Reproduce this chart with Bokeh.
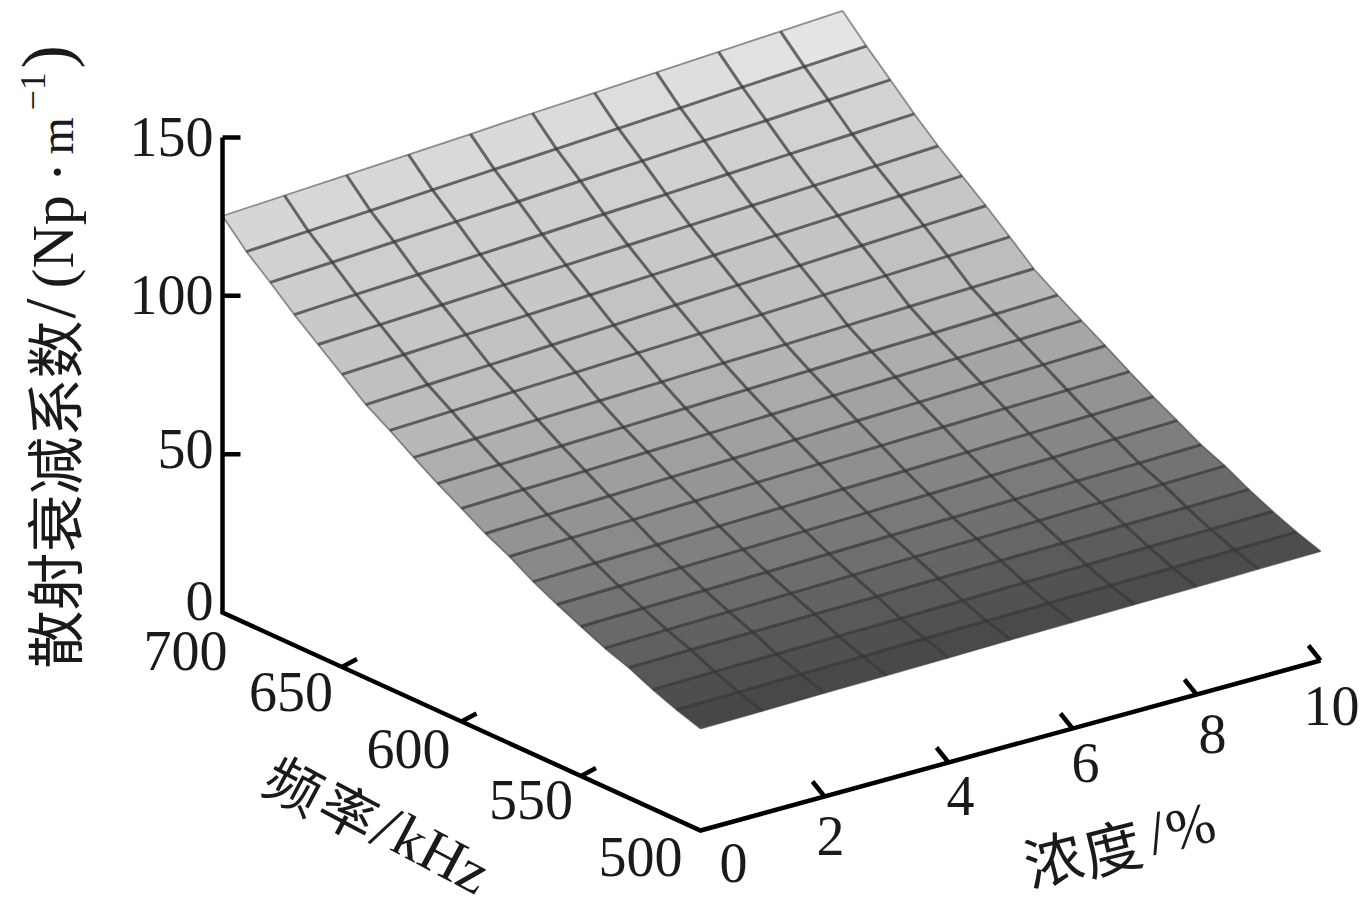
from bokeh.plotting import figure
from bokeh.models import Range1d, ColumnDataSource
from bokeh.core.properties import value
from bokeh.embed import file_html
from bokeh.resources import INLINE
import math

frequency_khz = [700, 690, 680, 670, 660, 650, 640, 630, 620, 610, 600,
                 590, 580, 570, 560, 550, 540, 530, 520, 510, 500]
concentration_pct = [0, 1, 2, 3, 4, 5, 6, 7, 8, 9, 10]
attenuation = [
    [125.2,126.3,127.4,128.5,129.6,130.8,131.9,133.0,134.1,135.2,136.3],
    [117.4,118.5,119.6,120.8,121.9,123.0,124.1,125.2,126.4,127.5,128.6],
    [111.1,112.1,113.2,114.2,115.2,116.3,117.3,118.3,119.3,120.4,121.4],
    [104.4,105.4,106.3,107.3,108.3,109.3,110.2,111.2,112.2,113.1,114.1],
    [98.4,99.3,100.2,101.1,102.0,102.9,103.8,104.7,105.6,106.5,107.4],
    [92.4,93.3,94.2,95.1,96.0,96.9,97.8,98.7,99.6,100.5,101.4],
    [86.3,87.2,88.1,89.0,89.9,90.9,91.8,92.7,93.6,94.5,95.4],
    [81.6,82.3,83.1,83.8,84.6,85.3,86.0,86.8,87.5,88.3,89.0],
    [76.5,77.1,77.7,78.3,78.9,79.5,80.0,80.6,81.2,81.8,82.4],
    [71.7,72.3,72.9,73.4,74.0,74.6,75.2,75.8,76.3,76.9,77.5],
    [67.3,67.9,68.4,69.0,69.5,70.1,70.7,71.2,71.8,72.3,72.9],
    [62.8,63.4,63.9,64.5,65.0,65.6,66.2,66.7,67.3,67.8,68.4],
    [59.0,59.5,59.9,60.4,60.9,61.4,61.8,62.3,62.8,63.2,63.7],
    [54.5,55.0,55.4,55.9,56.4,56.9,57.3,57.8,58.3,58.7,59.2],
    [50.7,51.1,51.6,52.0,52.5,52.9,53.3,53.8,54.2,54.7,55.1],
    [47.2,47.6,47.9,48.3,48.7,49.1,49.4,49.8,50.2,50.5,50.9],
    [43.8,44.2,44.6,45.0,45.4,45.8,46.1,46.5,46.9,47.3,47.7],
    [41.1,41.4,41.6,41.9,42.1,42.4,42.7,42.9,43.2,43.4,43.7],
    [37.6,37.9,38.1,38.4,38.6,38.9,39.2,39.4,39.7,39.9,40.2],
    [34.7,34.9,35.2,35.4,35.7,35.9,36.1,36.4,36.6,36.9,37.1],
    [32.2,32.4,32.7,32.9,33.1,33.4,33.6,33.8,34.0,34.3,34.5],
]
z_ticks = [0, 50, 100, 150]
freq_ticks = [700, 650, 600, 550, 500]
conc_ticks = [0, 2, 4, 6, 8, 10]

# oblique projection of the 3-D box onto the page
def project(c, f, z):
    x = 222 + 62.0 * c + 2.39 * (700 - f)
    y = 612 - 17.0 * c + 1.09 * (700 - f) - 3.167 * z
    return x, y

# grey level for a height
SHADE_Z = [30, 40, 50, 60, 80, 100, 120, 130, 137]
SHADE_G = [62, 88, 118, 145, 185, 200, 212, 222, 245]
def shade(z):
    for k in range(len(SHADE_Z) - 1):
        if z <= SHADE_Z[k + 1]:
            t = (z - SHADE_Z[k]) / (SHADE_Z[k + 1] - SHADE_Z[k])
            g = int(round(SHADE_G[k] + t * (SHADE_G[k + 1] - SHADE_G[k])))
            return f"#{g:02x}{g:02x}{g:02x}"
    return "#f5f5f5"

p = figure(width=1364, height=901, x_range=Range1d(0, 1364), y_range=Range1d(901, 0),
           toolbar_location=None, output_backend="svg", min_border=0)
p.axis.visible = False
p.grid.visible = False
p.outline_line_color = None
p.background_fill_color = "white"

# surface cells
xs, ys, fills = [], [], []
for i in range(len(frequency_khz) - 1):
    for j in range(len(concentration_pct) - 1):
        corners = [(i, j), (i, j + 1), (i + 1, j + 1), (i + 1, j)]
        pts = [project(concentration_pct[b], frequency_khz[a], attenuation[a][b]) for a, b in corners]
        xs.append([q[0] for q in pts])
        ys.append([q[1] for q in pts])
        fills.append(shade(sum(attenuation[a][b] for a, b in corners) / 4))
p.patches(xs="xs", ys="ys", fill_color="fills", line_color="fills", line_width=0.5,
          source=ColumnDataSource(dict(xs=xs, ys=ys, fills=fills)))

# mesh lines: interior lines heavier than the border lines
mx, my, ex, ey = [], [], [], []
n_f, n_c = len(frequency_khz), len(concentration_pct)
for a, f in enumerate(frequency_khz):
    pts = [project(c, f, attenuation[a][b]) for b, c in enumerate(concentration_pct)]
    (ex if a in (0, n_f - 1) else mx).append([q[0] for q in pts])
    (ey if a in (0, n_f - 1) else my).append([q[1] for q in pts])
for b, c in enumerate(concentration_pct):
    pts = [project(c, f, attenuation[a][b]) for a, f in enumerate(frequency_khz)]
    (ex if b in (0, n_c - 1) else mx).append([q[0] for q in pts])
    (ey if b in (0, n_c - 1) else my).append([q[1] for q in pts])
p.multi_line(mx, my, line_color="#383838", line_alpha=0.72, line_width=3)
p.multi_line(ex, ey, line_color="#444444", line_alpha=0.55, line_width=1.8)

# box axes
fmin, fmax = min(frequency_khz), max(frequency_khz)
cmin, cmax = min(concentration_pct), max(concentration_pct)
corner = project(cmin, fmax, 0)
low = project(cmin, fmin, 0)
right = project(cmax, fmin, 0)
top = project(cmin, fmax, max(z_ticks))
ax_x = [[top[0], corner[0], low[0], right[0]]]
ax_y = [[top[1], corner[1], low[1], right[1]]]
for z in z_ticks[1:]:
    a = project(cmin, fmax, z)
    ax_x.append([a[0], a[0] + 18]); ax_y.append([a[1], a[1]])
for f in freq_ticks[1:-1]:
    a = project(cmin, f, 0)
    ax_x.append([a[0], a[0] + 15]); ax_y.append([a[1], a[1] - 8])
for c in conc_ticks[1:]:
    a = project(c, fmin, 0)
    ax_x.append([a[0], a[0] - 12]); ax_y.append([a[1], a[1] - 15])
p.multi_line(ax_x, ax_y, line_color="black", line_width=4.5, line_join="miter", line_cap="butt")

# tick labels: offsets from each tick's projected foot
def labels(items, offsets):
    tx = [project(*it)[0] + o[0] for it, o in zip(items, offsets)]
    ty = [project(*it)[1] + o[1] for it, o in zip(items, offsets)]
    return tx, ty

SERIF = value("Liberation Serif")
CJK = value("Noto Sans CJK SC")
NUM = "56px"

tx, ty = labels([(cmin, fmax, z) for z in z_ticks], [(-9, -12), (-9, -5), (-9, -1), (-9, 0)])
p.text(tx, ty, text=[str(z) for z in z_ticks], text_font=SERIF, text_font_size=NUM,
       text_align="right", text_baseline="middle", text_color="#1a1a1a")
tx, ty = labels([(cmin, f, 0) for f in freq_ticks], [(-37, 38), (-51, 25), (-53, 27), (-50, 24), (-60, 26)])
p.text(tx, ty, text=[str(f) for f in freq_ticks], text_font=SERIF, text_font_size=NUM,
       text_align="center", text_baseline="middle", text_color="#1a1a1a")
tx, ty = labels([(c, fmin, 0) for c in conc_ticks], [(33, 32), (6, 39), (12, 33), (13, 34), (16, 39), (11, 45)])
p.text(tx, ty, text=[str(c) for c in conc_ticks], text_font=SERIF, text_font_size=NUM,
       text_align="center", text_baseline="middle", text_color="#1a1a1a")

# axis titles
def put(x, y, s, font, size, angle=0.0, baseline="middle", align="left"):
    p.text([x], [y], text=[s], text_font=font, text_font_size=size, angle=angle,
           text_align=align, text_baseline=baseline, text_color="#1a1a1a")

up = math.pi / 2
put(51, 668, "散射衰减系数", CJK, "58px", up)
put(49, 318, "/", SERIF, "72px", up, "alphabetic")
put(52, 288, "(Np", SERIF, "60px", up, "alphabetic")
put(56, 182, "·", SERIF, "62px", up, "alphabetic")
put(56, 154, "m", SERIF, "48px", up, "alphabetic")
put(32, 110, "−1", SERIF, "36px", up, "alphabetic")
put(46, 68, ")", SERIF, "70px", up, "alphabetic")

a = math.radians(-28)
put(295, 782, "频", CJK, "56px", a, "middle", "center")
put(350, 808, "率", CJK, "56px", a, "middle", "center")
put(386, 826, "/", SERIF, "66px", a, "middle", "center")
put(441, 854, "kHz", SERIF, "60px", a, "middle", "center")

b = math.radians(14)
put(1052, 856, "浓", CJK, "58px", b, "middle", "center")
put(1111, 845, "度", CJK, "58px", b, "middle", "center")
put(1156, 832, "/", SERIF, "62px", b, "middle", "center")
put(1190, 826, "%", SERIF, "58px", b, "middle", "center")

open("out.html", "w").write(file_html(p, INLINE))
